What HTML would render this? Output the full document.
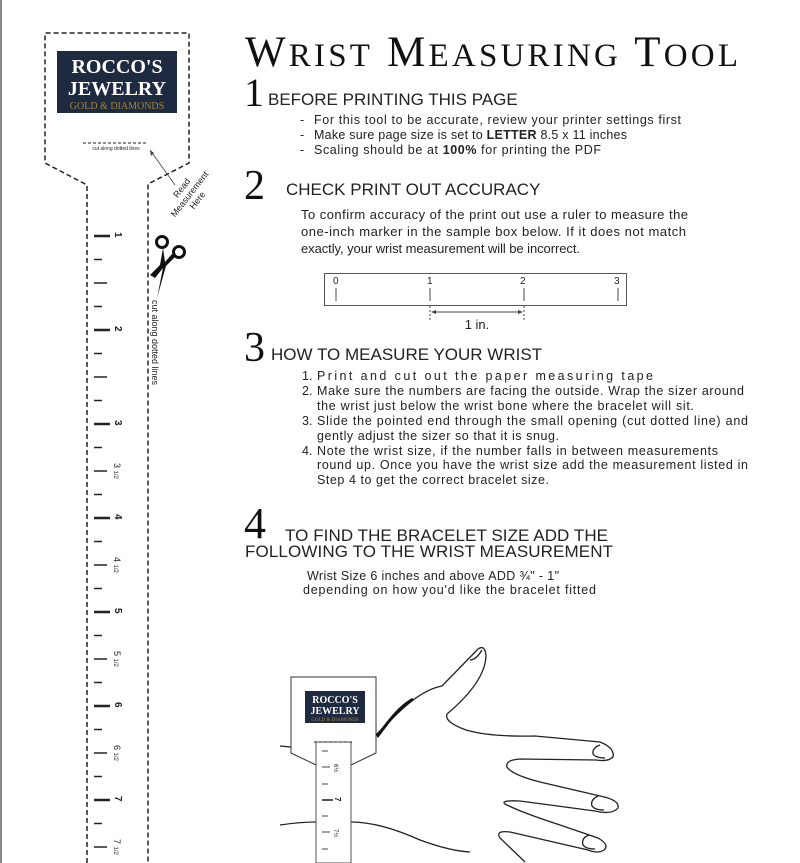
<!DOCTYPE html>
<html><head><meta charset="utf-8"><style>
html,body{margin:0;padding:0;background:#fff;}
svg{display:block;}
.s{font-family:"Liberation Sans",sans-serif;fill:#222;}
.serif{font-family:"Liberation Serif",serif;fill:#111;}
</style></head><body>
<svg width="800" height="863" viewBox="0 0 800 863" xmlns="http://www.w3.org/2000/svg">
<line x1="1" y1="0" x2="1" y2="863" stroke="#888" stroke-width="2"/>
<path d="M87 863 L87 185 L45 163 L45 33 L189 33 L189 163 L148 184 L148 863" fill="none" stroke="#222" stroke-width="1.5" stroke-dasharray="5,3"/>
<rect x="57" y="51" width="120" height="62" fill="#1d2a40"/>
<text x="117" y="73" text-anchor="middle" font-family="Liberation Serif,serif" font-weight="bold" font-size="20" fill="#fff">ROCCO'S</text>
<text x="117" y="95" text-anchor="middle" font-family="Liberation Serif,serif" font-weight="bold" font-size="20" fill="#fff">JEWELRY</text>
<text x="117" y="109" text-anchor="middle" font-family="Liberation Serif,serif" font-size="10" fill="#a8843a">GOLD &amp; DIAMONDS</text>
<line x1="83" y1="143" x2="147" y2="143" stroke="#222" stroke-width="1" stroke-dasharray="3,2"/>
<text x="116" y="150" text-anchor="middle" class="s" font-size="5">cut along dotted lines</text>
<line x1="150" y1="150" x2="175" y2="185" stroke="#444" stroke-width="0.8"/>
<path d="M150 150 L151 156 L154 153 Z" fill="#444"/>
<g transform="translate(192,196) rotate(-52)" class="s" font-size="9" text-anchor="middle" fill="#444">
<text x="0" y="-10">Read</text><text x="0" y="0">Measurement</text><text x="0" y="10">Here</text></g>
<g stroke="#111" fill="none" stroke-width="3">
<circle cx="162" cy="242" r="5.5"/><circle cx="179" cy="252" r="5.5"/>
</g>
<path d="M163 248 L160 265 L150 275 L155 278 L163 268 L157 298 L166 266 L175 257 L172 254 L165 262 Z" fill="#111"/>
<text transform="translate(152,300) rotate(90)" class="s" font-size="9" fill="#444">cut along dotted lines</text>
<g stroke="#222">
<line x1="94" y1="236" x2="110" y2="236" stroke-width="2.5"/>
<line x1="94" y1="259.5" x2="102" y2="259.5" stroke-width="1.5"/>
<line x1="94" y1="283" x2="107" y2="283" stroke-width="1.5"/>
<line x1="94" y1="306.5" x2="102" y2="306.5" stroke-width="1.5"/>
<line x1="94" y1="330" x2="110" y2="330" stroke-width="2.5"/>
<line x1="94" y1="353.5" x2="102" y2="353.5" stroke-width="1.5"/>
<line x1="94" y1="377" x2="107" y2="377" stroke-width="1.5"/>
<line x1="94" y1="400.5" x2="102" y2="400.5" stroke-width="1.5"/>
<line x1="94" y1="424" x2="110" y2="424" stroke-width="2.5"/>
<line x1="94" y1="447.5" x2="102" y2="447.5" stroke-width="1.5"/>
<line x1="94" y1="471" x2="107" y2="471" stroke-width="1.5"/>
<line x1="94" y1="494.5" x2="102" y2="494.5" stroke-width="1.5"/>
<line x1="94" y1="518" x2="110" y2="518" stroke-width="2.5"/>
<line x1="94" y1="541.5" x2="102" y2="541.5" stroke-width="1.5"/>
<line x1="94" y1="565" x2="107" y2="565" stroke-width="1.5"/>
<line x1="94" y1="588.5" x2="102" y2="588.5" stroke-width="1.5"/>
<line x1="94" y1="612" x2="110" y2="612" stroke-width="2.5"/>
<line x1="94" y1="635.5" x2="102" y2="635.5" stroke-width="1.5"/>
<line x1="94" y1="659" x2="107" y2="659" stroke-width="1.5"/>
<line x1="94" y1="682.5" x2="102" y2="682.5" stroke-width="1.5"/>
<line x1="94" y1="706" x2="110" y2="706" stroke-width="2.5"/>
<line x1="94" y1="729.5" x2="102" y2="729.5" stroke-width="1.5"/>
<line x1="94" y1="753" x2="107" y2="753" stroke-width="1.5"/>
<line x1="94" y1="776.5" x2="102" y2="776.5" stroke-width="1.5"/>
<line x1="94" y1="800" x2="110" y2="800" stroke-width="2.5"/>
<line x1="94" y1="823.5" x2="102" y2="823.5" stroke-width="1.5"/>
<line x1="94" y1="847" x2="107" y2="847" stroke-width="1.5"/>
</g>
<g class="s" font-size="10" font-weight="bold" fill="#111">
<text transform="translate(115,232) rotate(90)">1</text>
<text transform="translate(115,326) rotate(90)">2</text>
<text transform="translate(115,420) rotate(90)">3</text>
<text transform="translate(115,514) rotate(90)">4</text>
<text transform="translate(115,608) rotate(90)">5</text>
<text transform="translate(115,702) rotate(90)">6</text>
<text transform="translate(115,796) rotate(90)">7</text>
</g>
<g class="s" font-size="9" fill="#444">
<text transform="translate(114,463) rotate(90)">3 <tspan font-size="6">1/2</tspan></text>
<text transform="translate(114,557) rotate(90)">4 <tspan font-size="6">1/2</tspan></text>
<text transform="translate(114,651) rotate(90)">5 <tspan font-size="6">1/2</tspan></text>
<text transform="translate(114,745) rotate(90)">6 <tspan font-size="6">1/2</tspan></text>
<text transform="translate(114,839) rotate(90)">7 <tspan font-size="6">1/2</tspan></text>
</g>
<text x="245" y="66" class="serif" font-size="43" textLength="493" lengthAdjust="spacing">W<tspan font-size="33">RIST</tspan> M<tspan font-size="33">EASURING</tspan> T<tspan font-size="33">OOL</tspan></text>
<text x="244" y="106" class="serif" font-size="40">1</text>
<text x="268" y="105" class="s" font-size="17">BEFORE PRINTING THIS PAGE</text>
<g class="s" font-size="12.5">
<text x="300" y="124">-</text><text x="314" y="124" textLength="367" lengthAdjust="spacing">For this tool to be accurate, review your printer settings first</text>
<text x="300" y="139">-</text><text x="314" y="139" textLength="313" lengthAdjust="spacing">Make sure page size is set to <tspan font-weight="bold">LETTER</tspan> 8.5 x 11 inches</text>
<text x="300" y="154">-</text><text x="314" y="154" textLength="287" lengthAdjust="spacing">Scaling should be at <tspan font-weight="bold">100%</tspan> for printing the PDF</text>
</g>
<text x="244" y="199" class="serif" font-size="42">2</text>
<text x="286" y="195" class="s" font-size="17">CHECK PRINT OUT ACCURACY</text>
<g class="s" font-size="13">
<text x="301" y="219" textLength="387" lengthAdjust="spacing">To confirm accuracy of the print out use a ruler to measure the</text>
<text x="301" y="236" textLength="385" lengthAdjust="spacing">one-inch marker in the sample box below. If it does not match</text>
<text x="301" y="253" textLength="279" lengthAdjust="spacing">exactly, your wrist measurement will be incorrect.</text>
</g>
<rect x="324.5" y="273.5" width="302" height="32" fill="none" stroke="#555" stroke-width="1"/>
<g stroke="#444" stroke-width="1">
<line x1="336" y1="288" x2="336" y2="301"/><line x1="430" y1="288" x2="430" y2="301"/>
<line x1="524" y1="288" x2="524" y2="301"/><line x1="618" y1="288" x2="618" y2="301"/>
<line x1="430" y1="306" x2="430" y2="322" stroke-dasharray="2,2"/><line x1="524" y1="306" x2="524" y2="322" stroke-dasharray="2,2"/>
<line x1="432" y1="312" x2="522" y2="312"/>
</g>
<path d="M431 312 L436 310 L436 314Z M523 312 L518 310 L518 314Z" fill="#444"/>
<g class="s" font-size="10" fill="#444"><text x="333" y="284">0</text><text x="427" y="284">1</text><text x="520" y="284">2</text><text x="614" y="284">3</text></g>
<text x="477" y="329" class="s" font-size="13" text-anchor="middle">1 in.</text>
<text x="244" y="361" class="serif" font-size="42">3</text>
<text x="271" y="360" class="s" font-size="17">HOW TO MEASURE YOUR WRIST</text>
<g class="s" font-size="12.5">
<text x="302" y="380">1.</text><text x="317" y="380" textLength="336" lengthAdjust="spacing">Print and cut out the paper measuring tape</text>
<text x="302" y="395">2.</text><text x="317" y="395" textLength="427" lengthAdjust="spacing">Make sure the numbers are facing the outside. Wrap the sizer around</text>
<text x="317" y="410" textLength="377" lengthAdjust="spacing">the wrist just below the wrist bone where the bracelet will sit.</text>
<text x="302" y="425">3.</text><text x="317" y="425" textLength="431" lengthAdjust="spacing">Slide the pointed end through the small opening (cut dotted line) and</text>
<text x="317" y="440" textLength="242" lengthAdjust="spacing">gently adjust the sizer so that it is snug.</text>
<text x="302" y="455">4.</text><text x="317" y="455" textLength="401" lengthAdjust="spacing">Note the wrist size, if the number falls in between measurements</text>
<text x="317" y="469" textLength="431" lengthAdjust="spacing">round up. Once you have the wrist size add the measurement listed in</text>
<text x="317" y="484" textLength="232" lengthAdjust="spacing">Step 4 to get the correct bracelet size.</text>
</g>
<text x="244" y="538" class="serif" font-size="44">4</text>
<text x="285" y="541" class="s" font-size="17" textLength="323" lengthAdjust="spacing">TO FIND THE BRACELET SIZE ADD THE</text>
<text x="245" y="557" class="s" font-size="17" textLength="368" lengthAdjust="spacing">FOLLOWING TO THE WRIST MEASUREMENT</text>
<g class="s" font-size="12.5">
<text x="307" y="580" textLength="252" lengthAdjust="spacing">Wrist Size 6 inches and above ADD ¾" - 1"</text>
<text x="303" y="594" textLength="293" lengthAdjust="spacing">depending on how you'd like the bracelet fitted</text>
</g>
<g fill="none" stroke="#222" stroke-width="1.3">
<path d="M376 735 C400 710 420 690 442 686 L478 649 Q485 644 486 656 Q485 682 447 714 Q444 722 466 730 Q490 737 535 736 L600 742 Q615 748 613 757 Q608 762 596 760 L520 759 Q505 760 507 767 Q512 775 540 782 L600 796 Q620 800 618 808 Q612 815 595 811 L520 801 Q500 800 505 804 Q520 812 560 825 L598 838 Q610 845 604 850 Q598 854 588 850 L510 832 Q495 830 500 838 L525 862"/>
<path d="M600 745 Q592 748 593 754 Q596 758 605 758"/>
<path d="M598 796 Q590 800 592 806 Q595 810 604 810"/>
<path d="M589 835 Q581 838 583 845 Q586 849 595 849"/>
<path d="M470 660 Q476 660 482 650"/>
<path d="M280 746 L291 747"/>
<path d="M280 825 Q300 822 316 822 M351 822 Q380 822 420 840 Q450 851 470 852"/>
</g>
<path d="M376 735 C385 725 395 708 412 698 L414 700 C398 710 388 725 378 738Z" fill="#111"/>
<path d="M316 863 L316 765 L291 753 L291 677 L376 677 L376 753 L351 765 L351 863" fill="#fff" stroke="#333" stroke-width="1"/>
<rect x="316" y="742" width="35" height="121" fill="#fff" stroke="#555" stroke-width="1"/>
<line x1="314" y1="742" x2="353" y2="742" stroke="#222" stroke-dasharray="3,2"/>
<rect x="305" y="691" width="60" height="32" fill="#1d2a40"/>
<text x="335" y="703" text-anchor="middle" font-family="Liberation Serif,serif" font-weight="bold" font-size="10" fill="#fff">ROCCO'S</text>
<text x="335" y="714" text-anchor="middle" font-family="Liberation Serif,serif" font-weight="bold" font-size="10" fill="#fff">JEWELRY</text>
<text x="335" y="721" text-anchor="middle" font-family="Liberation Serif,serif" font-size="5" fill="#a8843a">GOLD &amp; DIAMONDS</text>
<g stroke="#444">
<line x1="322" y1="751" x2="328" y2="751"/><line x1="322" y1="767" x2="330" y2="767"/>
<line x1="322" y1="784" x2="328" y2="784"/><line x1="322" y1="800" x2="333" y2="800" stroke-width="1.8"/>
<line x1="322" y1="816" x2="328" y2="816"/><line x1="322" y1="832" x2="330" y2="832"/>
<line x1="322" y1="849" x2="328" y2="849"/>
</g>
<g class="s" font-size="6" fill="#555">
<text transform="translate(334,764) rotate(90)">6½</text>
<text transform="translate(335,797) rotate(90)" font-weight="bold" font-size="8" fill="#111">7</text>
<text transform="translate(334,829) rotate(90)">7½</text>
</g>
</svg>
</body></html>
